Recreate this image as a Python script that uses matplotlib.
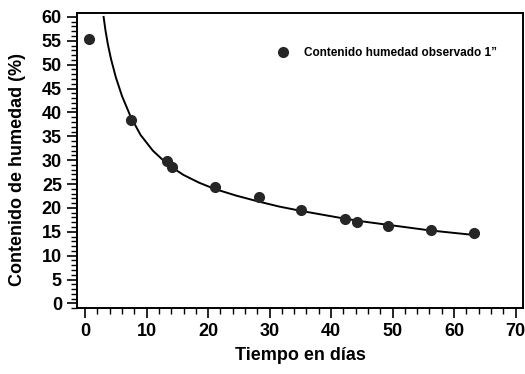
import matplotlib
matplotlib.use("Agg")
import matplotlib.pyplot as plt
from matplotlib.ticker import MultipleLocator

plt.rcParams['font.family'] = ['Liberation Sans', 'DejaVu Sans']

dias = [0.6, 7.4, 13.3, 14.2, 21.1, 28.3, 35.1, 42.2, 44.2, 49.2, 56.2, 63.2]
humedad = [55.3, 38.4, 29.8, 28.6, 24.3, 22.2, 19.6, 17.7, 17.0, 16.2, 15.3, 14.7]

# fitted curve, points
curva_x = [3.0, 3.3, 3.7, 4.2, 5.0, 6.0, 7.4, 9.0, 11.0, 13.5, 16.0, 18.5, 21.0,
           24.5, 28.0, 31.5, 35.0, 38.5, 42.0, 45.5, 49.0, 52.5, 56.0, 59.7, 63.5]
curva_y = [60.0, 57.2, 54.2, 51.2, 47.3, 43.4, 39.1, 35.3, 32.0, 29.0, 26.9, 25.3, 24.0,
           22.6, 21.4, 20.3, 19.4, 18.6, 17.8, 17.1, 16.5, 15.9, 15.3, 14.8, 14.3]

fig = plt.figure(figsize=(5.25, 3.74), dpi=100)
ax = fig.add_axes([0.147, 0.176, 0.849, 0.789])

ax.plot(curva_x, curva_y, color='black', lw=1.4)
ax.plot(dias, humedad, 'o', color='#262626', markersize=7, lw=0,
        label='Contenido humedad observado 1\u201d')

ax.set_xlim(-1.3, 71.2)
ax.set_ylim(-1.0, 60.8)
ax.xaxis.set_major_locator(MultipleLocator(10))
ax.xaxis.set_minor_locator(MultipleLocator(2))
ax.yaxis.set_major_locator(MultipleLocator(5))
ax.yaxis.set_minor_locator(MultipleLocator(1))
ax.tick_params(which='major', length=7, width=1.2, labelsize=13, pad=4)
ax.tick_params(which='minor', length=4, width=1.0)
for lab in ax.get_xticklabels() + ax.get_yticklabels():
    lab.set_fontweight('bold')
for s in ax.spines.values():
    s.set_linewidth(1.4)

ax.set_xlabel('Tiempo en días', fontsize=13, fontweight='bold', labelpad=5)
ax.set_ylabel('Contenido de humedad (%)', fontsize=13, fontweight='bold')
ax.yaxis.set_label_coords(-0.115, 0.47)

leg = ax.legend(loc='center left', bbox_to_anchor=(0.412, 0.864), frameon=False,
                prop={'size': 8.5, 'weight': 'bold'}, handletextpad=0.8)

fig.savefig('out.png', dpi=100)
